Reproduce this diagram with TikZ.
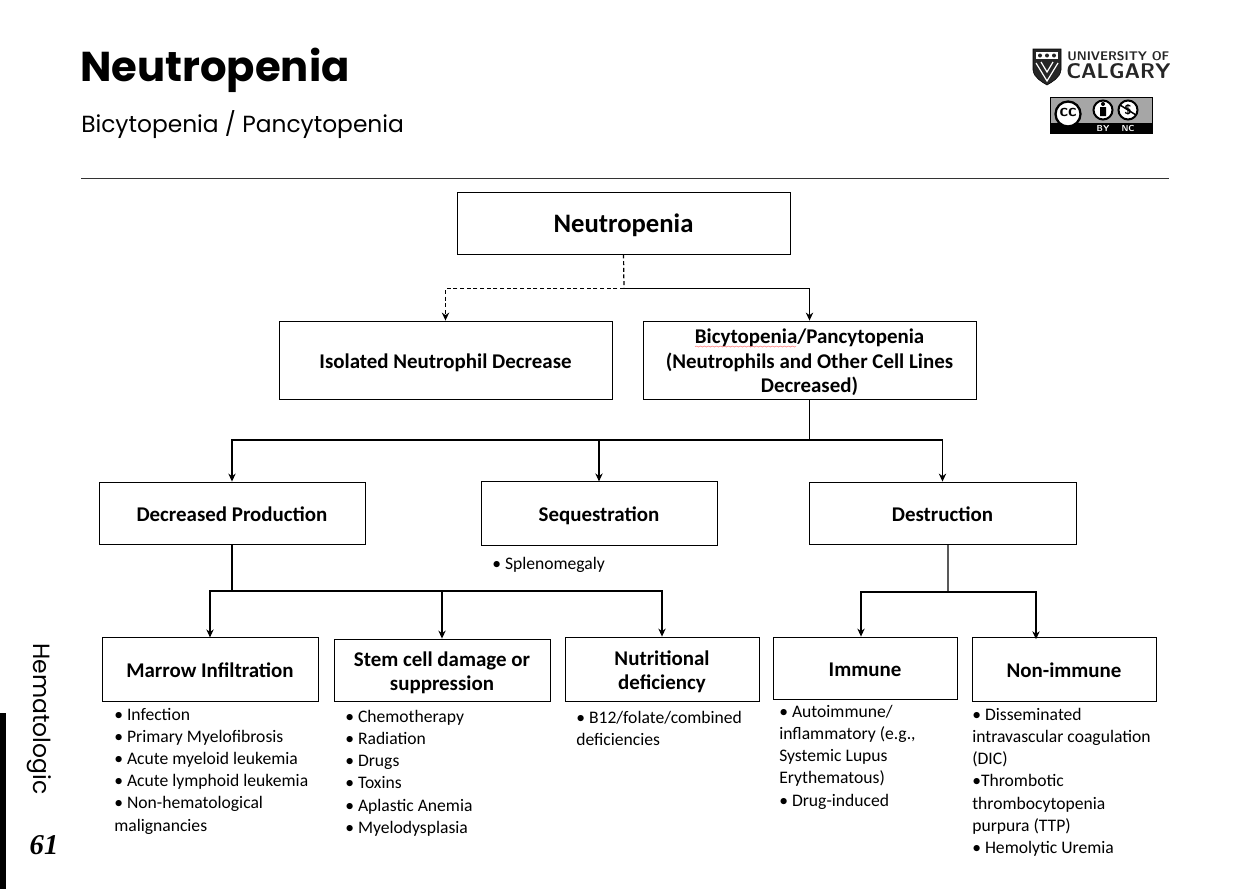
\documentclass[tikz,border=0pt]{standalone}
\usepackage{fontspec}
\setmainfont{Carlito}
\newfontfamily\headfont{Poppins}
\newfontfamily\numfont{Liberation Serif}
\usetikzlibrary{arrows.meta,decorations.pathmorphing}
\newcommand{\boxtext}[1]{\raisebox{\dimexpr-0.25em-2.3pt}[0pt][0pt]{\begin{tabular}{@{}c@{}}#1\end{tabular}}}
\tikzset{
    boxnode/.style={draw=black, line width=0.65pt, minimum width=#1, inner sep=0pt, align=center, font=\fontsize{15.7}{18.4}\selectfont\bfseries},
    listnode/.style={anchor=north west, inner sep=0pt, align=left, font=\fontsize{13.2}{16.6}\selectfont},
    link/.style={line width=0.8pt, -{Stealth[length=6pt,width=5.5pt]}},
}
\begin{document}
\begin{tikzpicture}[x=0.75pt,y=-0.75pt]
    \useasboundingbox (0,0) rectangle (1253,889);
    % heading
    \node[anchor=base west, inner sep=0pt, font=\headfont\fontsize{31.3}{36}\selectfont\bfseries] (title) at (80,81) {Neutropenia};
    \node[anchor=base west, inner sep=0pt, font=\headfont\fontsize{17.5}{22}\selectfont] (subtitle) at (81,132) {Bicytopenia / Pancytopenia};
    \draw[line width=0.6pt, black!80] (81,178) -- (1169,178);

    % logo
    \draw[fill=black!85, line width=0.4pt] (1033,49) -- (1061,49) -- (1061,70) .. controls (1060,78) and (1052,82) .. (1047,85) .. controls (1042,82) and (1034,78) .. (1033,70) -- cycle;
    \fill[white] (1036,52) rectangle (1058,59);
    \fill[black!85] (1040,55.5) circle (2) (1047,55.5) circle (2) (1054,55.5) circle (2);
    \draw[white, line width=0.9pt] (1036,63) -- (1047,81) -- (1058,63) (1041,62) -- (1047,72) -- (1053,62);
    \node[anchor=base west, inner sep=0pt, font=\fontsize{9.4}{10}\selectfont\bfseries\sffamily, text=black!85] (uni) at (1067,60) {UNIVERSITY OF};
    \node[anchor=base west, inner sep=0pt, font=\fontsize{15.9}{16}\selectfont\sffamily\bfseries, text=black!85] (cal) at (1066,78) {CALGARY};

    % licence badge
    \fill[black!35] (1050,97) rectangle (1152,133);
    \fill[black] (1050,123) rectangle (1152,133);
    \draw[black, line width=0.5pt] (1050,97) rectangle (1152,133);
    \draw[fill=white, line width=1.7pt] (1068,114) circle (12.5);
    \node[inner sep=0pt, font=\fontsize{13}{13}\selectfont\sffamily\bfseries] (cc) at (1068,112.5) {cc};
    \draw[fill=white, line width=1.5pt] (1103,110) circle (9.5);
    \fill (1103,104) circle (2) (1100,107) rectangle (1106,116);
    \draw[fill=white, line width=1.5pt] (1128,110) circle (9.5);
    \node[inner sep=0pt, font=\fontsize{10}{10}\selectfont\sffamily\bfseries] (dollar) at (1128,110) {\$};
    \draw[line width=1.1pt] (1120,105) -- (1136,115);
    \node[inner sep=0pt, text=white, font=\fontsize{6.5}{7}\selectfont\sffamily\bfseries] (by) at (1103,128) {BY};
    \node[inner sep=0pt, text=white, font=\fontsize{6.5}{7}\selectfont\sffamily\bfseries] (nc) at (1128,128) {NC};

    % side tab
    \fill[black] (0,713) rectangle (6,889);
    \node[rotate=-90, inner sep=0pt, font=\headfont\fontsize{17.6}{18}\selectfont] (section) at (39,719) {Hematologic};
    \node[inner sep=0pt, font=\numfont\fontsize{21.5}{24}\selectfont\bfseries\itshape] (page) at (44,845) {61};

    % boxes
    \node[boxnode=333*0.75pt, minimum height=46.5pt, font=\fontsize{20}{24}\selectfont\bfseries] (root) at (623.5,223) {\boxtext{Neutropenia}};
    \node[boxnode=333*0.75pt, minimum height=58.5pt] (isolated) at (445.5,360) {\boxtext{Isolated Neutrophil Decrease}};
    \node[boxnode=333*0.75pt, minimum height=58.5pt] (bicyto) at (809.5,360) {\boxtext{Bicytopenia/Pancytopenia\\(Neutrophils and Other Cell Lines\\Decreased)}};
    \node[boxnode=266*0.75pt, minimum height=46.5pt] (production) at (232,513) {\boxtext{Decreased Production}};
    \node[boxnode=236*0.75pt, minimum height=47.5pt] (sequestration) at (599,513.5) {\boxtext{Sequestration}};
    \node[boxnode=267*0.75pt, minimum height=46.5pt] (destruction) at (942.5,513) {\boxtext{Destruction}};
    \node[boxnode=216*0.75pt, minimum height=47.5pt] (marrow) at (210,669.5) {\boxtext{Marrow Infiltration}};
    \node[boxnode=216*0.75pt, minimum height=46.5pt] (stem) at (442,670) {\boxtext{Stem cell damage or\\suppression}};
    \node[boxnode=194*0.75pt, minimum height=48pt] (nutrition) at (662,669) {\boxtext{Nutritional\\deficiency}};
    \node[boxnode=184*0.75pt, minimum height=46.5pt] (immune) at (865,668) {\boxtext{Immune}};
    \node[boxnode=184*0.75pt, minimum height=48pt] (nonimmune) at (1064,669) {\boxtext{Non-immune}};

    % spelling mark
    \draw[red!70, line width=0.3pt, decorate, decoration={snake, amplitude=0.4pt, segment length=3pt}] (695,346.5) -- (796,346.5);

    % lists
    \node[listnode] (seqlist) at (492,557) {• Splenomegaly};
    \node[listnode] (marrowlist) at (114,708) {• Infection\\• Primary Myelofibrosis\\• Acute myeloid leukemia\\• Acute lymphoid leukemia\\• Non-hematological\\malignancies};
    \node[listnode] (stemlist) at (345,710) {• Chemotherapy\\• Radiation\\• Drugs\\• Toxins\\• Aplastic Anemia\\• Myelodysplasia};
    \node[listnode] (nutrlist) at (576,711) {• B12/folate/combined\\deficiencies};
    \node[listnode] (immunelist) at (779,705) {• Autoimmune/\\inflammatory (e.g.,\\Systemic Lupus\\Erythematous)\\• Drug-induced};
    \node[listnode] (nonimmunelist) at (972,708) {• Disseminated\\intravascular coagulation\\(DIC)\\•Thrombotic\\thrombocytopenia\\purpura (TTP)\\• Hemolytic Uremia};

    % connectors
    \coordinate (rootjoin) at (624,288.5);
    \draw[line width=0.9pt, densely dashed] (root.south) -- (rootjoin);
    \draw[line width=0.9pt, densely dashed, -{Stealth[length=6pt,width=5.5pt]}] (rootjoin) -| (isolated.north);
    \draw[link] (rootjoin) -| (bicyto.north);

    \coordinate (bicytojoin) at (809.5,440);
    \draw[line width=1.2pt] (bicyto.south) -- (bicytojoin);
    \draw[link] (bicytojoin) -| (production.north);
    \draw[link] (bicytojoin) -| (sequestration.north);
    \draw[link] (bicytojoin) -| (destruction.north);

    \coordinate (prodjoin) at (232,591);
    \draw[line width=0.9pt] (production.south) -- (prodjoin);
    \draw[link] (prodjoin) -| (marrow.north);
    \draw[link] (prodjoin) -| (stem.north);
    \draw[link] (prodjoin) -| (nutrition.north);

    \coordinate (destrjoin) at (948,592);
    \draw[line width=1pt] ([xshift=4.1pt]destruction.south) -- (destrjoin);
    \draw[link] (destrjoin) -| ([xshift=-3pt]immune.north);
    \draw[link] (destrjoin) -| ([xshift=-21pt,yshift=-2pt]nonimmune.north);
\end{tikzpicture}
\end{document}
